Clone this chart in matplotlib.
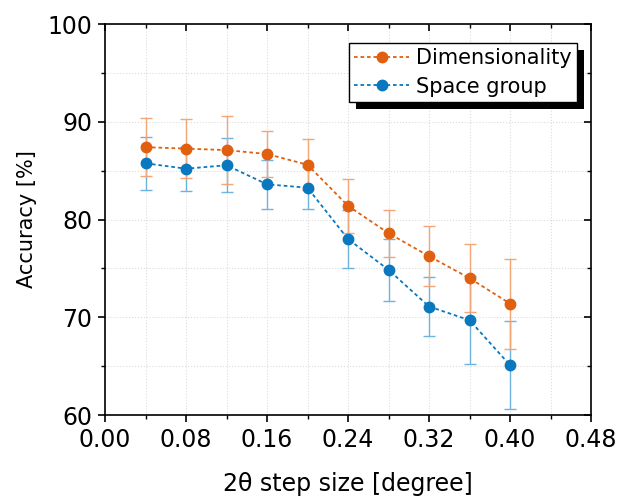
import numpy as np
import matplotlib
matplotlib.use("Agg")
import matplotlib.pyplot as plt
from matplotlib.patches import Rectangle

# Data
step_size = [0.04, 0.08, 0.12, 0.16, 0.20, 0.24, 0.28, 0.32, 0.36, 0.40]
dim_acc = [87.4, 87.25, 87.1, 86.7, 85.6, 81.4, 78.6, 76.25, 74.0, 71.4]
dim_err = [3.0, 3.0, 3.45, 2.4, 2.6, 2.75, 2.4, 3.05, 3.45, 4.6]
sg_acc = [85.75, 85.2, 85.55, 83.6, 83.25, 78.0, 74.85, 71.1, 69.7, 65.1]
sg_err = [2.7, 2.25, 2.75, 2.5, 2.15, 2.95, 3.2, 3.05, 4.5, 4.5]

x_ticks = [0.00, 0.08, 0.16, 0.24, 0.32, 0.40, 0.48]
y_ticks = [60, 70, 80, 90, 100]

orange = "#E0600F"
blue = "#0A78BE"

plt.rcParams['font.family'] = ['DejaVu Sans']

fig = plt.figure(figsize=(6.27, 4.99), dpi=100)
ax = fig.add_axes([0.1675, 0.1683, 0.9426 - 0.1675, 0.9519 - 0.1683])

# Series
sg = ax.errorbar(step_size, sg_acc, yerr=sg_err, color=blue, ecolor="#6FB2DD",
                 elinewidth=1.0, capsize=4, capthick=1.0, marker='o', markersize=7.5,
                 linestyle=(0, (2, 1.6)), linewidth=1.3, zorder=3)
dim = ax.errorbar(step_size, dim_acc, yerr=dim_err, color=orange, ecolor="#F2A577",
                  elinewidth=1.0, capsize=4, capthick=1.0, marker='o', markersize=7.5,
                  linestyle=(0, (2, 1.6)), linewidth=1.3, zorder=3)

ax.set_xlim(0, 0.48)
ax.set_ylim(60, 100)
ax.set_xticks(x_ticks)
ax.set_xticklabels([f"{v:.2f}" for v in x_ticks])
ax.set_yticks(y_ticks)
ax.set_xticks(np.arange(0.04, 0.48, 0.08), minor=True)
ax.set_yticks(np.arange(65, 100, 10), minor=True)

ax.grid(True, which='both', color='#dcdcdc', linestyle=':', linewidth=0.8, zorder=0)
ax.set_axisbelow(True)

for sp in ax.spines.values():
    sp.set_linewidth(1.2)

ax.tick_params(axis='both', which='major', direction='out', length=5, width=1.2,
               labelsize=17, pad=4)
ax.tick_params(axis='both', which='minor', direction='out', length=3, width=1.0)
ax.tick_params(top=True, right=True, which='both')
# ticks on top/right point inward
for t in ax.xaxis.get_major_ticks() + ax.xaxis.get_minor_ticks():
    t.tick2line.set_marker(3)
for t in ax.yaxis.get_major_ticks() + ax.yaxis.get_minor_ticks():
    t.tick2line.set_marker(0)

ax.set_xlabel('2θ step size [degree]', fontsize=17, labelpad=15)
ax.set_ylabel('Accuracy [%]', fontsize=15, labelpad=8)

leg = ax.legend([dim[0], sg[0]], ['Dimensionality', 'Space group'], loc='upper right',
                bbox_to_anchor=(0.971, 0.951), fontsize=15, frameon=True,
                fancybox=False, edgecolor='black', framealpha=1,
                handlelength=2.6, handletextpad=0.35, borderpad=0.25,
                labelspacing=0.4, borderaxespad=0)
leg.get_frame().set_linewidth(1.0)

# solid black drop shadow behind the legend box
fig.canvas.draw()
bb = leg.get_frame().get_window_extent()
inv = ax.transAxes.inverted()
(x0, y0) = inv.transform((bb.x0 + 7, bb.y0 - 7))
(x1, y1) = inv.transform((bb.x1 + 7, bb.y1 - 7))
ax.add_patch(Rectangle((x0, y0), x1 - x0, y1 - y0, transform=ax.transAxes,
                       facecolor='black', edgecolor='none', zorder=4.9,
                       clip_on=False))

fig.savefig('out.png', dpi=100)
